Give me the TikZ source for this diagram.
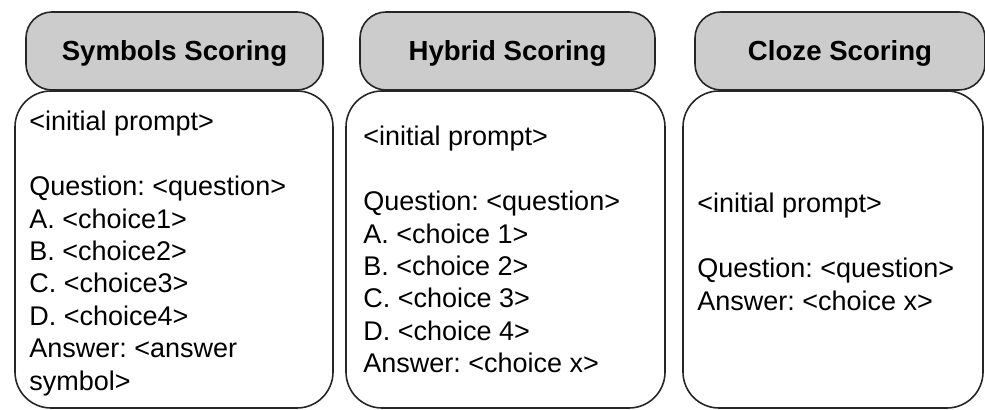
\documentclass[tikz,border=0pt]{standalone}
\usepackage{fontspec}
\setmainfont{Liberation Sans}
\tikzset{
	headbox/.style={draw=black!85, line width=0.8pt, fill=black!20, rounded corners=13pt,
		minimum height=39pt, inner sep=0pt, text depth=0pt,
		font=\fontsize{13.8}{16.5}\bfseries\selectfont},
	bodybox/.style={draw=black!85, line width=0.8pt, fill=white, rounded corners=18pt,
		minimum height=158.5pt, inner sep=0pt},
	prompt/.style={anchor=north west, align=left, inner sep=0pt,
		font=\fontsize{13.5}{16.2}\selectfont\frenchspacing},
}
\begin{document}
\begin{tikzpicture}[x=0.5pt, y=0.5pt]
		\useasboundingbox (0,0) rectangle (985,410);

		% body boxes
		\node[bodybox, minimum width=159pt] (symbody) at (174, 160.5) {};
		\node[bodybox, minimum width=159.5pt] (hybbody) at (505.5, 160.5) {};
		\node[bodybox, minimum width=150pt] (clobody) at (833, 160.5) {};

		% headers
		\node[headbox, minimum width=148.5pt] (symhead) at (174.5, 359) {Symbols Scoring};
		\node[headbox, minimum width=147.5pt] (hybhead) at (507.5, 359) {Hybrid Scoring};
		\node[headbox, minimum width=145pt] (clohead) at (840, 359) {Cloze Scoring};

		% prompt texts
		\node[prompt] (symtext) at (29, 299) {<initial prompt>\\[16.2pt]
			Question: <question>\\ A. <choice1>\\ B. <choice2>\\ C. <choice3>\\
			D. <choice4>\\ Answer: <answer\\ symbol>};
		\node[prompt] (hybtext) at (363, 284) {<initial prompt>\\[16.2pt]
			Question: <question>\\ A. <choice 1>\\ B. <choice 2>\\ C. <choice 3>\\
			D. <choice 4>\\ Answer: <choice x>};
		\node[prompt] (clotext) at (697, 217) {<initial prompt>\\[16.2pt]
			Question: <question>\\ Answer: <choice x>};
\end{tikzpicture}
\end{document}
